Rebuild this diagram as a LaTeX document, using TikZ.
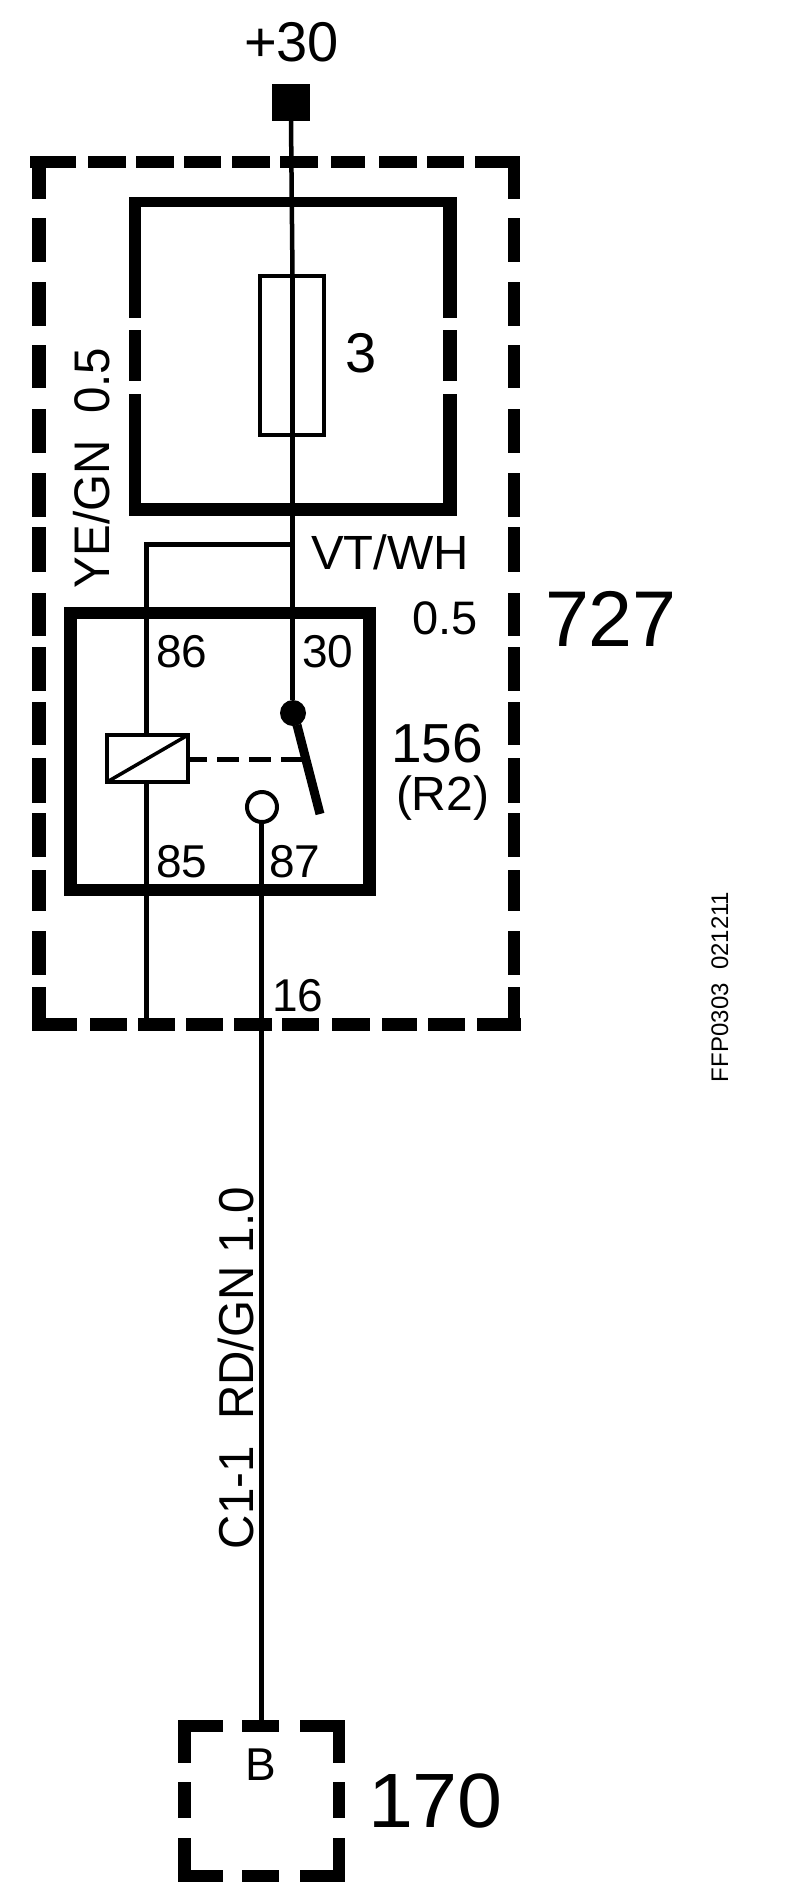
\documentclass[tikz,border=0pt]{standalone}
\usepackage{fontspec}
\setmainfont{Liberation Sans}
\newcommand\fsz[1]{\fontsize{#1}{#1}\selectfont}
\tikzset{
  wire/.style={draw=black,line width=4.5pt},
  labeltext/.style={inner sep=0pt,outer sep=0pt,anchor=base west,text=black},
  sideways/.style={labeltext,rotate=90},
  thinbox/.style={draw=black,fill=white,line width=4pt,inner sep=0pt,outer sep=0pt},
  heavy/.style={fill=black}
}
\begin{document}
\begin{tikzpicture}[x=1pt,y=-1pt]
\useasboundingbox[fill=white] (0,0) rectangle (800,1904);
% outer dashed frame 727
\foreach \a/\b in {30/76,88/126,136/174,184/221,232/270,280/318,331/365,379/417,427/464,475/519}
  \fill[heavy] (\a,156) rectangle (\b,168);
\foreach \a/\b in {32/77,90/127,138/175,186/223,234/272,282/319,332/370,382/417,428/465,477/521}
  \fill[heavy] (\a,1018) rectangle (\b,1031);
\foreach \a/\b in {156/199,218/262,282/326,345/388,409/453,473/517,527/572,593/636,647/691,702/745,758/803,813/857,870/911,931/975,987/1031}
  {\fill[heavy] (32,\a) rectangle (45.5,\b);
   \fill[heavy] (508,\a) rectangle (520,\b);}
% fuse panel
\fill[heavy] (129,197) rectangle (457,207);
\fill[heavy] (129,503) rectangle (457,516);
\foreach \a/\b in {197/318,330/381,394/516}
  {\fill[heavy] (129,\a) rectangle (141,\b);
   \fill[heavy] (443,\a) rectangle (457,\b);}
% relay frame
\node[draw=black,line width=12.5pt,inner sep=0pt,outer sep=0pt,minimum width=299pt,minimum height=277pt] (relay) at (220,751.5) {};
% elements
\node[fill=black,inner sep=0pt,outer sep=0pt,minimum width=38pt,minimum height=37pt] (t30) at (291,102.5) {};
\node[thinbox,minimum width=64pt,minimum height=159pt] (fuse) at (292,355.5) {};
\node[thinbox,minimum width=81pt,minimum height=47pt] (coil) at (147.5,758.5) {};
\node[circle,fill=black,inner sep=0pt,outer sep=0pt,minimum size=26pt] (pivot) at (293,713) {};
\node[circle,draw=black,fill=white,line width=4pt,inner sep=0pt,outer sep=0pt,minimum size=30pt] (contact) at (262,807) {};
\coordinate (armend) at (320,814);
\coordinate (armtop) at (297,725);
\coordinate (j1) at (292.5,544.5);
\coordinate (j2) at (146.5,544.5);
\coordinate (frame85) at (146.5,1024);
\coordinate (c170) at (261.5,1720);
% wires
\draw[wire] (t30.south) -- (fuse.north -| j1);
\draw[wire] (fuse.north -| j1) -- (fuse.south -| j1);
\draw[wire] (fuse.south -| j1) -- (pivot.north -| j1);
\draw[wire,line cap=rect] (j1) -- (j2) -- (coil.north -| j2);
\draw[wire] (coil.south -| j2) -- (frame85);
\draw[wire] (contact.south -| c170) -- (c170);
\draw[line width=3.5pt] (coil.south west) -- (coil.north east);
\draw[line width=9pt] (armtop) -- (pivot.center);
\draw[line width=9pt] (armtop) -- (armend);
\foreach \a/\b in {190/207,217/239,249/271,281/302}
  \fill[heavy] (\a,757) rectangle (\b,762);
% connector box 170
\foreach \a/\b in {178/223,242/279,300/345}
  {\fill[heavy] (\a,1720) rectangle (\b,1732);
   \fill[heavy] (\a,1870) rectangle (\b,1882);}
\foreach \a/\b in {1720/1763,1782/1818,1838/1882}
  {\fill[heavy] (178,\a) rectangle (191,\b);
   \fill[heavy] (333,\a) rectangle (345,\b);}
% labels
\node[labeltext] (lb30) at (244,61) {\fsz{56}+30};
\node[labeltext] (lbf) at (345,372) {\fsz{56}3};
\node[sideways] (lbye) at (109,588) {\fsz{50}\scalebox{0.95}[1]{YE/GN\ \ 0.5}};
\node[labeltext] (lbvt) at (311,569) {\fsz{48}\scalebox{1.02}[1]{VT/WH}};
\node[labeltext] (lbh) at (412,634) {\fsz{47}0.5};
\node[labeltext] (lb727) at (545,646) {\fsz{79}727};
\node[labeltext] (lb86) at (156,667) {\fsz{46}86};
\node[labeltext] (lb30b) at (302,667) {\fsz{46}30};
\node[labeltext] (lb85) at (156,877) {\fsz{46}85};
\node[labeltext] (lb87) at (269,877) {\fsz{46}87};
\node[labeltext] (lb16) at (272,1011) {\fsz{46}16};
\node[labeltext] (lb156) at (391,762) {\fsz{55}156};
\node[labeltext] (lbr2) at (396,810) {\fsz{48}(R2)};
\node[sideways] (lbffp) at (728,1082) {\fsz{24}FFP0303\ \ 021211};
\node[sideways] (lbc1) at (253,1549) {\fsz{49}\scalebox{0.97}[1]{C1-1\ \ RD/GN 1.0}};
\node[labeltext] (lbb) at (245,1780) {\fsz{46}B};
\node[labeltext] (lb170) at (368,1827) {\fsz{77}\scalebox{1.05}[1]{170}};
\end{tikzpicture}
\end{document}
